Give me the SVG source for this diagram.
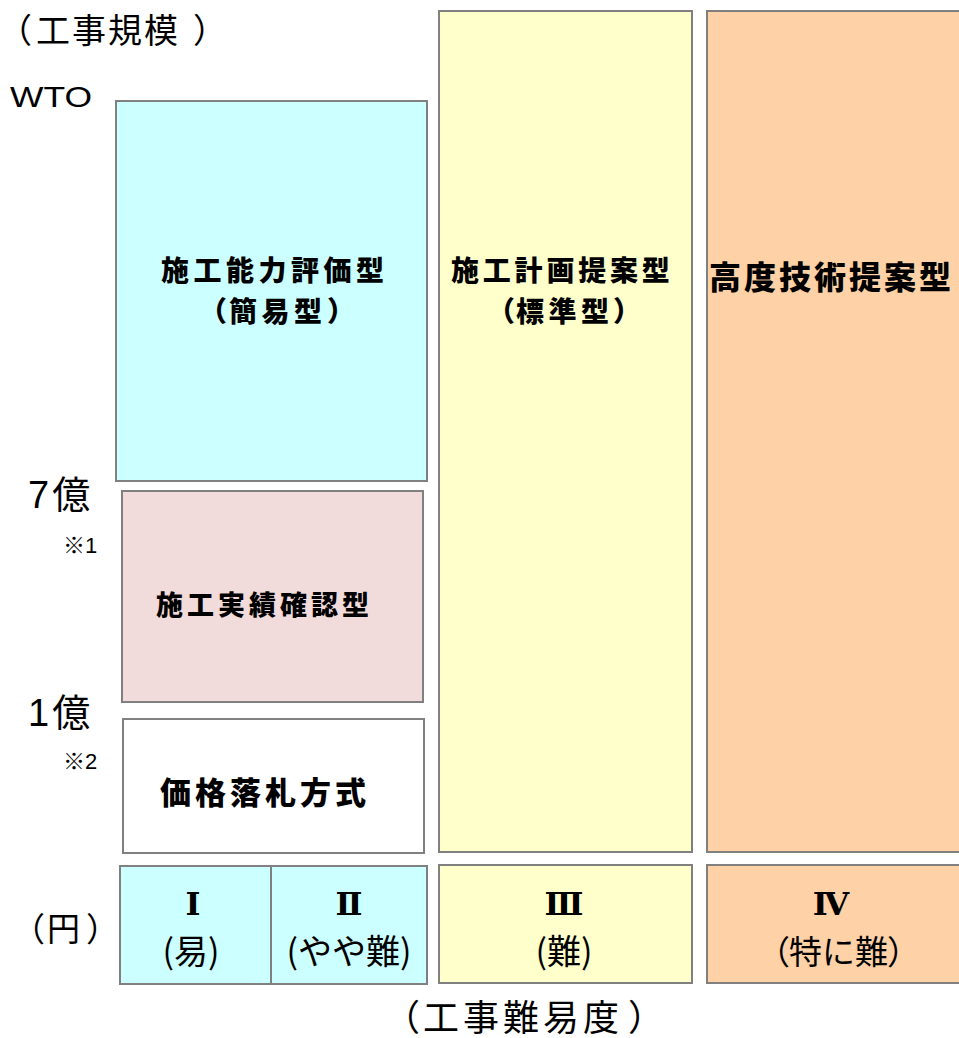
<svg xmlns="http://www.w3.org/2000/svg" width="959" height="1038" viewBox="0 0 959 1038">
<style>
.box{stroke:#808080;stroke-width:2}
.lbl{font-family:"Noto Sans CJK JP","Noto Sans",sans-serif;fill:#000}
.b{font-weight:900}
.ax{font-family:"Liberation Sans","Noto Sans CJK JP",sans-serif;fill:#000}
.lat{font-family:"Liberation Sans",Arial,sans-serif;fill:#000}
.rom{font-family:"DejaVu Serif","Liberation Serif","Noto Sans CJK JP",serif;font-weight:bold;fill:#000}
.m{text-anchor:middle}
</style>
<rect width="959" height="1038" fill="#ffffff"/>
<g id="axis-labels">
<text class="ax" y="43" font-size="34"><tspan x="-2">（</tspan><tspan x="36" letter-spacing="2">工事規模</tspan><tspan x="193">）</tspan></text>
<text class="lat" x="10" y="107" font-size="30" textLength="82" lengthAdjust="spacingAndGlyphs">WTO</text>
<text class="ax" x="28" y="508" font-size="38" letter-spacing="3">7億</text>
<text class="ax" x="63" y="553" font-size="22">※1</text>
<text class="ax" x="28" y="726" font-size="38" letter-spacing="3">1億</text>
<text class="ax" x="63" y="769" font-size="22">※2</text>
<text class="ax" y="941" font-size="33"><tspan x="12">（</tspan><tspan x="47">円</tspan><tspan x="86">）</tspan></text>
<text class="ax" y="1031" font-size="36"><tspan x="384">（</tspan><tspan x="423" letter-spacing="4">工事難易度</tspan><tspan x="628">）</tspan></text>
</g>
<g id="node-kantei">
<rect class="box" x="116" y="101" width="311" height="380" fill="#ccffff"/>
<text class="lbl b" x="161" y="281" font-size="28" letter-spacing="4.5">施工能力評価型</text>
<text class="lbl b" y="322" font-size="28"><tspan x="199">（</tspan><tspan x="229" letter-spacing="4.5">簡易型</tspan><tspan x="327">）</tspan></text>
</g>
<g id="node-jisseki">
<rect class="box" x="122" y="491" width="301" height="211" fill="#f2dcdb"/>
<text class="lbl b" x="156" y="615" font-size="27" letter-spacing="4">施工実績確認型</text>
</g>
<g id="node-kakaku">
<rect class="box" x="123" y="719" width="301" height="134" fill="#ffffff"/>
<text class="lbl b" x="160" y="804" font-size="31" letter-spacing="4">価格落札方式</text>
</g>
<g id="node-hyojun">
<rect class="box" x="439" y="11" width="253" height="841" fill="#ffffcc"/>
<text class="lbl b" x="451" y="281" font-size="28" letter-spacing="3.8">施工計画提案型</text>
<text class="lbl b" y="322" font-size="28"><tspan x="487">（</tspan><tspan x="516" letter-spacing="4.5">標準型</tspan><tspan x="613">）</tspan></text>
</g>
<g id="node-kodo">
<rect class="box" x="707" y="11" width="262" height="841" fill="#ffd1a6"/>
<text class="lbl b" x="709" y="289" font-size="32" letter-spacing="3">高度技術提案型</text>
</g>
<g id="cell-1">
<rect class="box" x="120" y="866" width="151" height="118" fill="#ccffff"/>
<text class="rom m" x="193" y="915" font-size="32">Ⅰ</text>
<text class="lbl m" x="191" y="964" font-size="34">(易)</text>
</g>
<g id="cell-2">
<rect class="box" x="271" y="866" width="156" height="118" fill="#ccffff"/>
<text class="rom m" x="349" y="915" font-size="32">Ⅱ</text>
<text class="lbl m" x="349" y="964" font-size="34">(やや難)</text>
</g>
<g id="cell-3">
<rect class="box" x="439" y="865" width="253" height="118" fill="#ffffcc"/>
<text class="rom m" x="564" y="915" font-size="32">Ⅲ</text>
<text class="lbl m" x="564" y="964" font-size="34">(難)</text>
</g>
<g id="cell-4">
<rect class="box" x="707" y="865" width="262" height="118" fill="#ffd1a6"/>
<text class="rom m" x="831" y="915" font-size="32">Ⅳ</text>
<text class="lbl" y="964" font-size="33"><tspan x="757">（</tspan><tspan x="789">特に難</tspan><tspan x="887">）</tspan></text>
</g>
<g id="connectors"></g>
</svg>
